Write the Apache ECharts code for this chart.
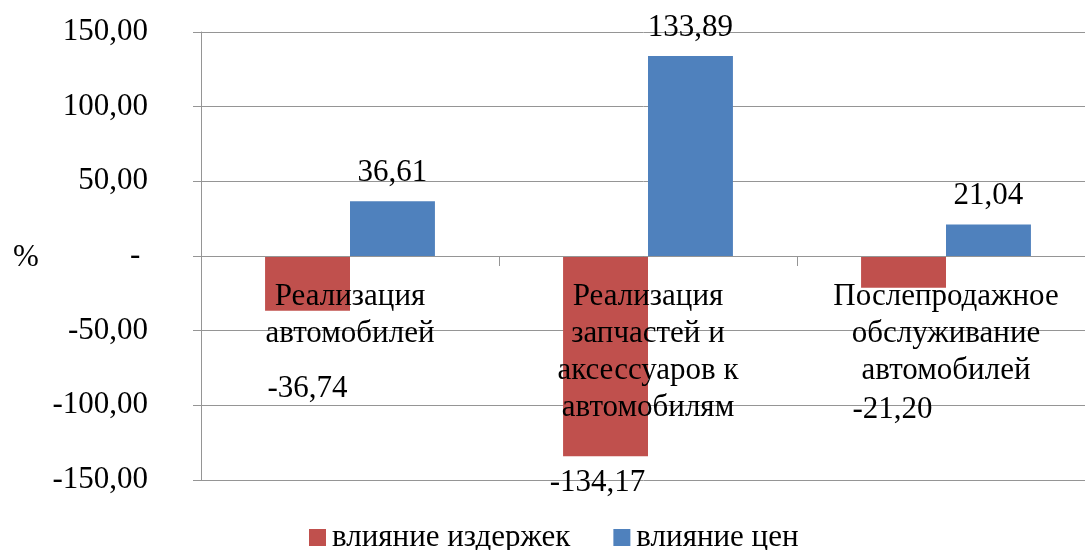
<!DOCTYPE html>
<html>
<head>
<meta charset="utf-8">
<script src="https://cdn.jsdelivr.net/npm/echarts@6/dist/echarts.min.js"></script>
<style>
html,body{margin:0;padding:0;background:#fff;}
#chart{width:1085px;height:550px;}
</style>
</head>
<body>
<div id="chart"></div>
<script>
const categories = [
  "Реализация\nавтомобилей",
  "Реализация\nзапчастей и\nаксессуаров к\nавтомобилям",
  "Послепродажное\nобслуживание\nавтомобилей"
];
const seriesNames = ["влияние издержек", "влияние цен"];
const costImpact = [-36.74, -134.17, -21.20];
const priceImpact = [36.61, 133.89, 21.04];
const yTicks = { min: -150, max: 150, interval: 50 };

// label placement tweaks (layout only, not data)
const costLabelShift = [[0, 52], [-8, 1], [-11, 97]];

const FONT = 'Liberation Serif';
const GRAY = '#959595';
const fmt = v => v.toFixed(2).replace('.', ',');

const chart = echarts.init(document.getElementById('chart'));
chart.setOption({
  animation: false,
  textStyle: { fontFamily: FONT, color: '#000' },
  grid: { left: 201, right: -10, top: 32, bottom: 70, containLabel: false, outerBoundsMode: 'none' },
  legend: {
    data: seriesNames.map(n => ({ name: n, textStyle: { fontFamily: FONT, fontSize: 31, color: '#000' } })),
    left: 304, top: 517,
    itemWidth: 17, itemHeight: 17, itemGap: 43,
    icon: 'rect',
    textStyle: { fontFamily: FONT, fontSize: 31, color: '#000', padding: [0, 0, 0, 1] }
  },
  graphic: [{
    type: 'text', left: 13, top: 242,
    style: { text: '%', font: '31px ' + FONT, fill: '#000' }
  }],
  xAxis: {
    type: 'category',
    data: categories,
    z: 5,
    axisLine: { show: true, onZero: true, lineStyle: { color: GRAY, width: 1 } },
    axisTick: { show: true, length: 10, lineStyle: { color: GRAY } },
    axisLabel: { interval: 0, margin: -202, fontSize: 31, lineHeight: 37, color: '#000', fontFamily: FONT },
    splitLine: { show: false }
  },
  yAxis: {
    type: 'value',
    min: yTicks.min, max: yTicks.max, interval: yTicks.interval,
    axisLine: { show: true, lineStyle: { color: GRAY, width: 1 } },
    axisTick: { show: true, length: 8, lineStyle: { color: GRAY } },
    axisLabel: {
      margin: 53, fontSize: 31, color: '#000', fontFamily: FONT,
      formatter: v => v === 0 ? '- ' : fmt(v)
    },
    splitLine: { show: true, lineStyle: { color: GRAY, width: 1 } }
  },
  series: [
    {
      name: seriesNames[0], type: 'bar',
      barWidth: '28.5%', barGap: '0%',
      itemStyle: { color: '#C0504D' },
      data: costImpact.map((v, i) => ({
        value: v,
        label: { offset: costLabelShift[i] }
      })),
      label: {
        show: true, position: 'bottom', distance: 10,
        fontSize: 31, color: '#000', fontFamily: FONT,
        formatter: p => fmt(p.value)
      }
    },
    {
      name: seriesNames[1], type: 'bar',
      barWidth: '28.5%', barGap: '0%',
      itemStyle: { color: '#4F81BD' },
      data: priceImpact,
      label: {
        show: true, position: 'top', distance: 13,
        fontSize: 31, color: '#000', fontFamily: FONT,
        formatter: p => fmt(p.value)
      }
    }
  ]
});
</script>
</body>
</html>
